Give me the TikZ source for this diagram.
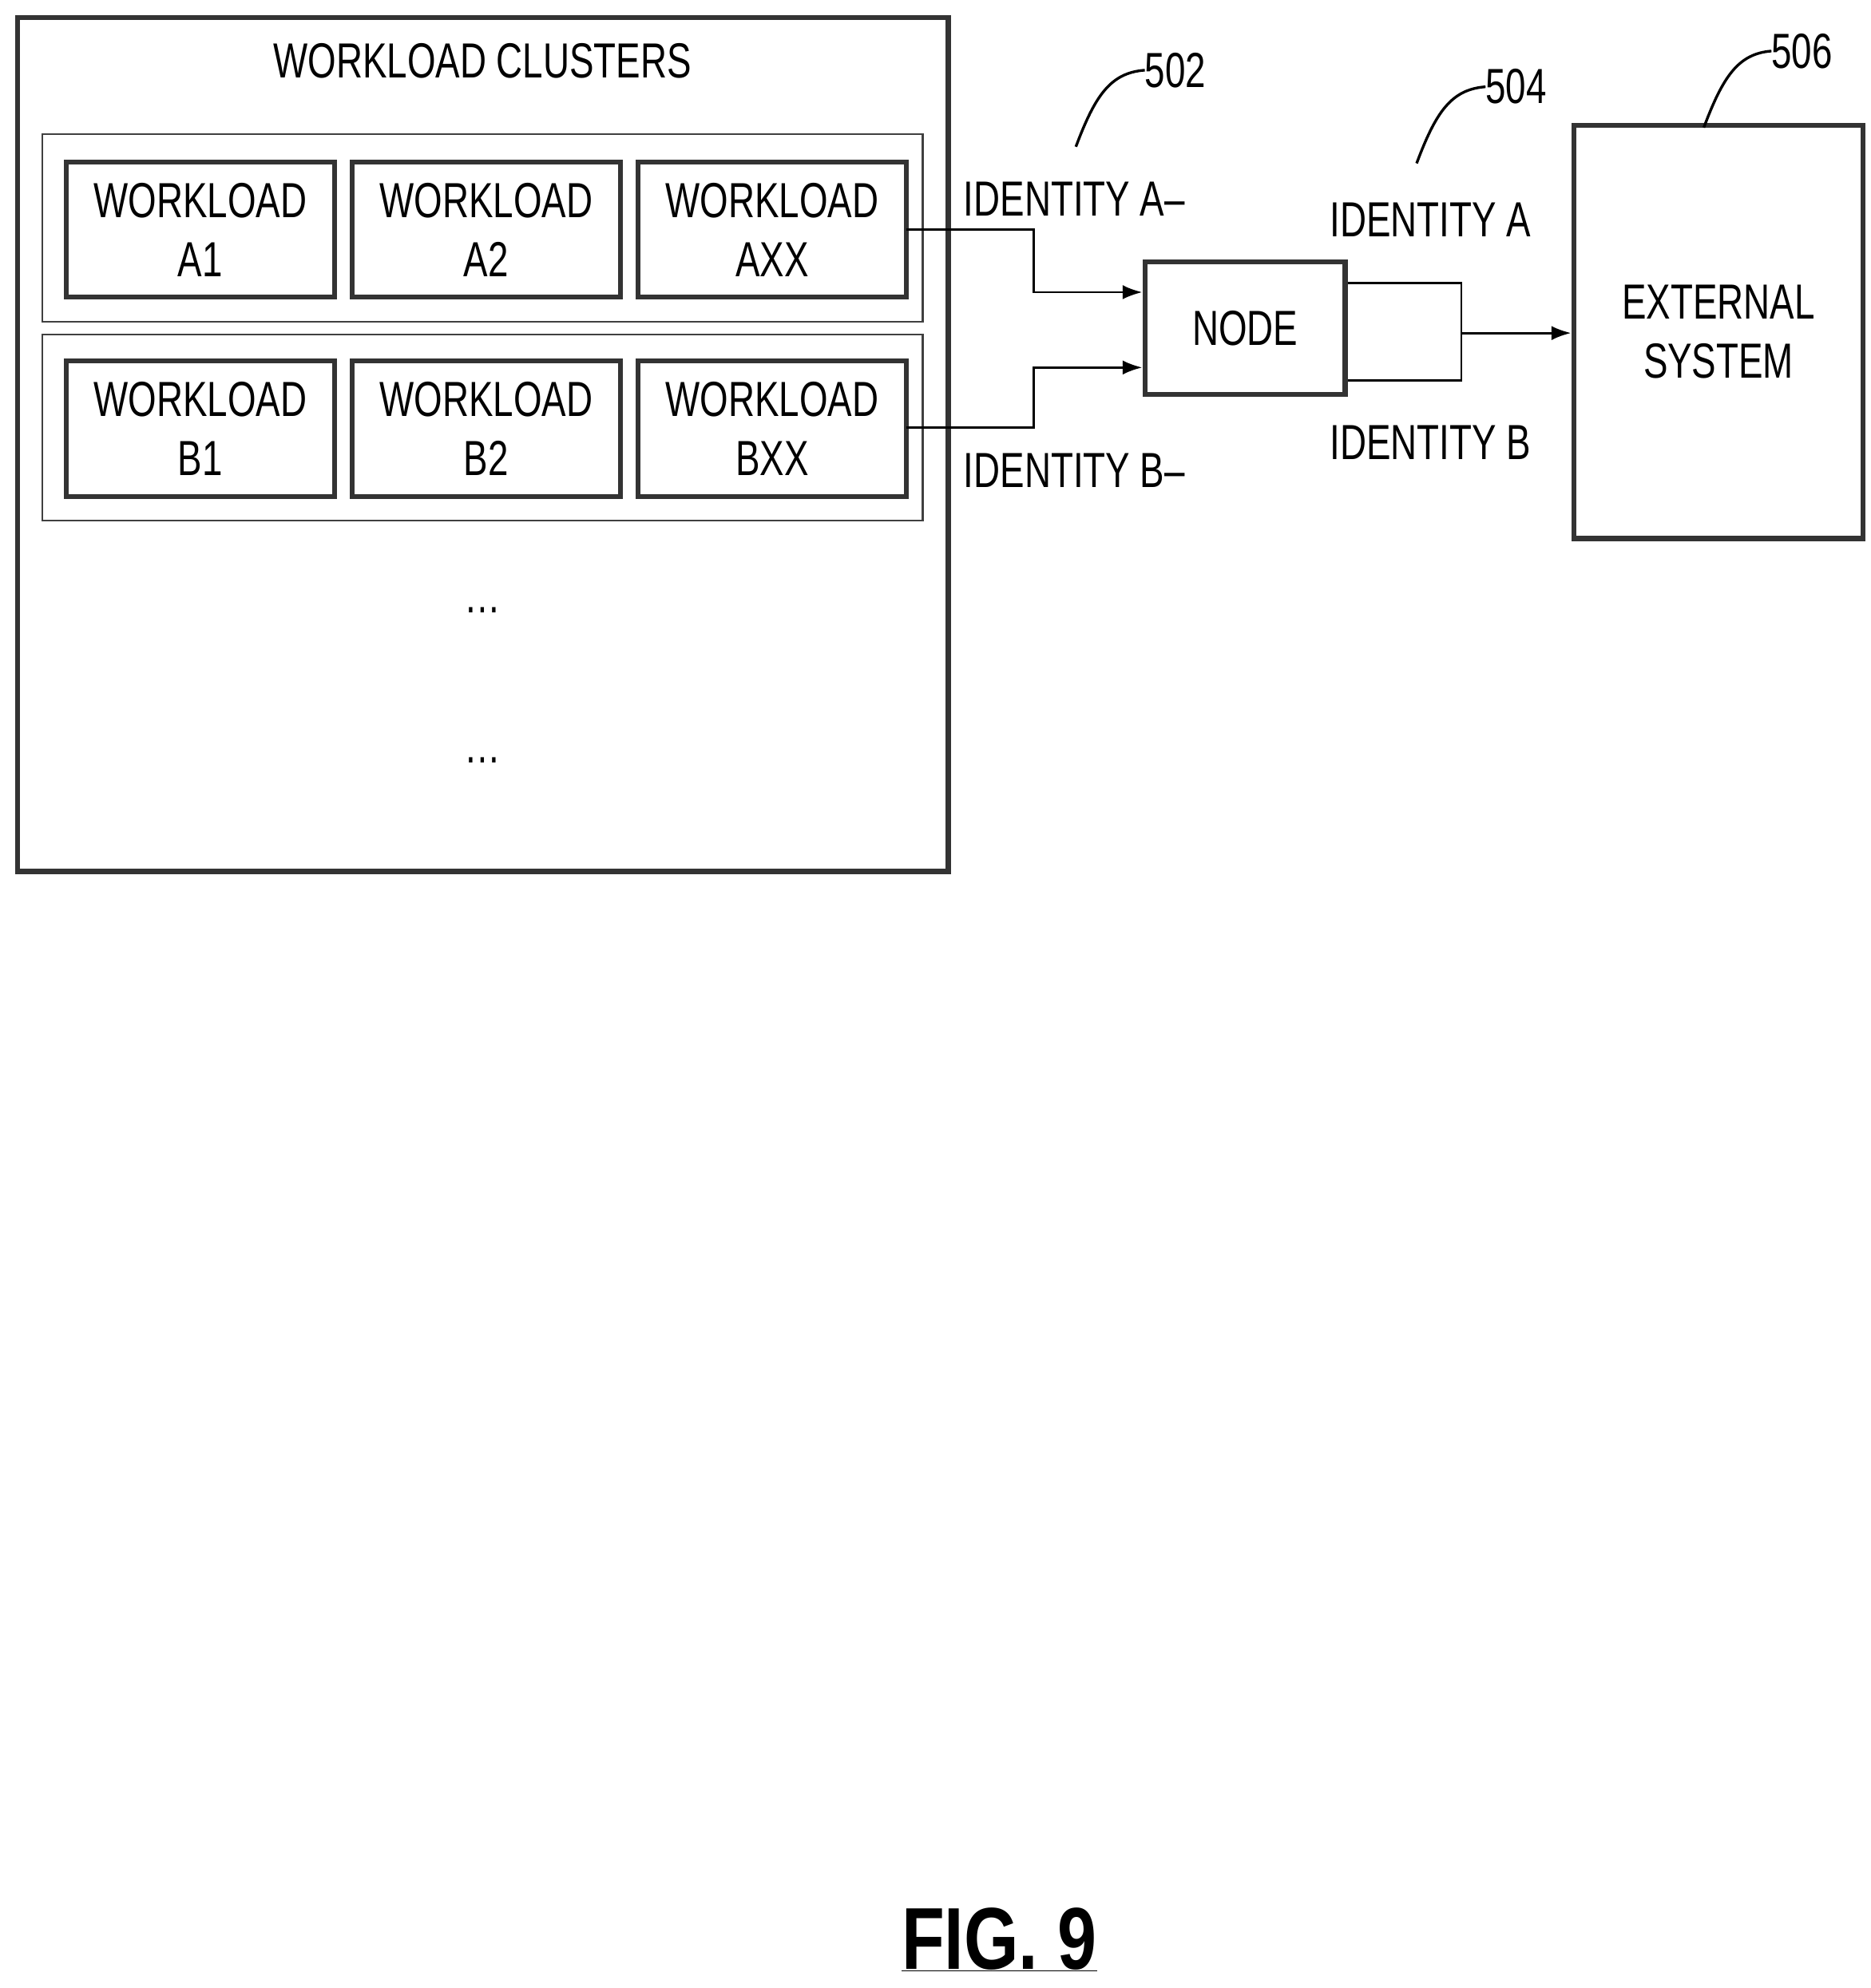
\documentclass[tikz,border=0pt]{standalone}
\usetikzlibrary{arrows.meta}
\usepackage{fontspec}
\setmainfont{Liberation Sans}[FakeStretch=0.74]
\newfontfamily\figfont{Liberation Sans}[FakeStretch=0.8]
\begin{document}
\begin{tikzpicture}[x=0.05cm,y=-0.05cm,
  thickbox/.style={draw=black!80,line width=5.5pt},
  thinbox/.style={draw=black!75,line width=2pt},
  conn/.style={draw=black,line width=2.6pt},
  arr/.style={conn,-{Latex[length=22pt,width=16pt]}},
  txt/.style={font=\fontsize{55}{66}\selectfont,align=center,inner sep=0pt},
  ref/.style={draw=black,line width=3pt}]
\useasboundingbox (0,0) rectangle (1466,1558);
\draw[thickbox] (14,14) rectangle (743,683);
\node[txt] (title) at (378,48) {WORKLOAD CLUSTERS};
\draw[thinbox] (33,105) rectangle (723,252);
\draw[thinbox] (33,262) rectangle (723,408);
\foreach \x/\n/\t in {52/a1/A1,276/a2/A2,500/axx/AXX}{
  \draw[thickbox] (\x,127) rectangle ++(210,106);
  \node[txt] (\n) at (\x+105,180) {WORKLOAD\\\t};}
\foreach \x/\n/\t in {52/b1/B1,276/b2/B2,500/bxx/BXX}{
  \draw[thickbox] (\x,283) rectangle ++(210,106);
  \node[txt] (\n) at (\x+105,336) {WORKLOAD\\\t};}
\coordinate (aout) at (710,180);
\coordinate (bout) at (710,335);
\node[txt] (d1) at (378,478) {\dots};
\node[txt] (d2) at (378,596) {\dots};
\node[thickbox,minimum width=157*0.05cm,minimum height=104*0.05cm,txt] (node) at (975.5,257) {NODE};
\node[thickbox,minimum width=227*0.05cm,minimum height=324*0.05cm,txt] (ext) at (1346.5,260) {EXTERNAL\\SYSTEM};
\draw[arr] (aout) -- (810,180) -- (810,229) -- (node.west|-0,229);
\draw[arr] (bout) -- (810,335) -- (810,288) -- (node.west|-0,288);
\draw[conn] (node.east|-0,222) -- (1145,222) -- (1145,298) -- (node.east|-0,298);
\coordinate (m) at (1145,261);
\draw[arr] (m) -- (ext.west|-m);
\node[txt,anchor=west] (ia1) at (755,156) {IDENTITY A--};
\node[txt,anchor=west] (ib1) at (755,369) {IDENTITY B--};
\node[txt,anchor=west] (ia) at (1042,172) {IDENTITY A};
\node[txt,anchor=west] (ib) at (1042,347) {IDENTITY B};
\node[txt,anchor=west] (r502) at (897,55) {502};
\node[txt,anchor=west] (r504) at (1164,68) {504};
\node[txt,anchor=west] (r506) at (1388,40) {506};
\draw[ref] (843,115) .. controls (858,75) and (870,57) .. (r502.west);
\draw[ref] (1110,128) .. controls (1125,88) and (1137,70) .. (r504.west);
\draw[ref] (1335,100) .. controls (1350,60) and (1362,42) .. (r506.west);
\node[inner sep=0pt,font=\figfont\bfseries\fontsize{98}{110}\selectfont] (fig) at (783,1520) {\underline{FIG. 9}};
\end{tikzpicture}
\end{document}
